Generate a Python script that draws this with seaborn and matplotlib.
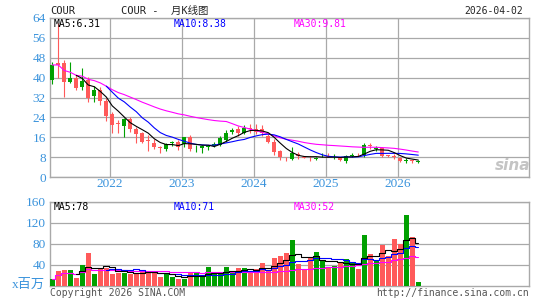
import numpy as np
import pandas as pd
import matplotlib
matplotlib.use('Agg')
import matplotlib.pyplot as plt
import seaborn as sns

# monthly K-line for COUR, Mar 2021 .. Apr 2026
months = pd.period_range('2021-03', '2026-04', freq='M')

opens = [39.0, 45.8, 45.8, 38.4, 39.7, 36.4, 39.0, 32.7, 35.0, 30.6,
         25.2, 21.8, 20.7, 23.2, 19.2, 17.6, 14.8, 13.8, 12.0, 11.2,
         13.6, 14.2, 13.2, 16.2, 11.9, 11.6, 12.0, 12.6, 12.9, 14.9,
         18.0, 19.2, 17.8, 19.8, 19.2, 19.2, 16.5, 14.2, 10.6, 7.8,
         7.2, 9.4, 8.1, 7.8, 7.4, 8.3, 8.4, 7.9, 7.8, 6.4,
         8.6, 9.3, 8.9, 12.7, 11.4, 11.6, 8.7, 8.3, 7.8, 6.5,
         6.6, 6.0]
highs = [46.4, 62.0, 47.1, 46.4, 40.9, 43.8, 40.1, 36.6, 36.4, 31.7,
         26.3, 22.9, 23.6, 24.0, 20.3, 18.2, 16.9, 15.2, 12.5, 13.8,
         14.6, 14.9, 16.2, 16.9, 12.9, 12.9, 12.9, 14.0, 16.5, 18.9,
         19.8, 20.5, 20.9, 21.2, 21.2, 20.9, 17.3, 15.3, 10.9, 7.9,
         12.2, 9.9, 8.5, 8.3, 8.1, 9.5, 9.8, 9.1, 8.0, 8.9,
         9.6, 9.6, 13.8, 13.8, 12.5, 12.0, 8.9, 9.2, 8.2, 7.5,
         6.9, 6.8]
lows = [37.4, 39.7, 32.3, 37.8, 35.0, 35.0, 30.1, 30.1, 29.0, 22.5,
        17.6, 17.6, 16.2, 18.2, 13.6, 13.6, 10.5, 11.3, 9.8, 10.5,
        12.5, 10.9, 12.0, 10.6, 10.1, 9.8, 10.9, 12.2, 12.5, 14.2,
        17.3, 16.5, 17.5, 17.6, 17.2, 16.5, 13.6, 8.9, 6.8, 6.6,
        6.8, 7.3, 7.5, 6.4, 6.7, 7.9, 8.0, 7.3, 6.6, 5.8,
        8.2, 8.4, 8.2, 11.1, 10.3, 8.2, 7.9, 7.3, 5.9, 5.5,
        5.6, 5.6]
closes = [45.1, 45.1, 38.4, 40.0, 36.0, 38.8, 31.9, 35.0, 30.6, 24.7,
          20.9, 21.3, 23.2, 19.2, 17.3, 14.2, 14.3, 12.0, 11.6, 13.2,
          14.2, 12.2, 16.0, 11.2, 12.1, 12.5, 12.3, 13.2, 15.8, 17.8,
          18.9, 17.6, 19.8, 19.4, 18.2, 17.6, 14.2, 10.2, 7.9, 7.5,
          9.5, 8.5, 7.8, 7.5, 7.6, 8.6, 8.2, 8.1, 6.8, 8.5,
          8.9, 9.1, 12.9, 12.4, 11.6, 8.5, 8.4, 8.1, 6.4, 6.7,
          6.4, 6.5]
# volume, millions of shares
volumes = [13.0, 27.8, 29.7, 29.7, 15.2, 39.2, 62.5, 22.1, 34.1, 32.8,
           22.1, 24.6, 24.6, 22.1, 24.6, 28.4, 26.5, 24.6, 17.1, 22.1,
           17.1, 12.6, 12.6, 25.3, 23.4, 17.1, 36.0, 22.1, 22.1, 36.0,
           25.0, 34.1, 34.1, 26.5, 31.0, 43.6, 29.7, 53.0, 56.2, 62.5,
           86.5, 41.0, 31.6, 55.0, 64.4, 48.6, 34.1, 37.3, 45.5, 50.5,
           42.3, 31.6, 96.0, 60.0, 48.6, 77.0, 56.2, 89.7, 80.2, 134.0,
           92.0, 6.3]

price_labels = ['MA5:6.31', 'MA10:8.38', 'MA30:9.81']
vol_labels = ['MA5:78', 'MA10:71', 'MA30:52']

RED = '#ff5a5a'
GREEN = '#00a000'
GRID = '#a9a9a9'
TICK = '#3a93dc'
MONO = ['DejaVu Sans Mono', 'Noto Sans CJK SC']

sns.set_style('white')
plt.rcParams['font.family'] = ['DejaVu Sans', 'Noto Sans CJK SC']

df = pd.DataFrame({'month': months, 'open': opens, 'high': highs,
                   'low': lows, 'close': closes, 'vol': volumes})
df['idx'] = np.arange(len(df))
df['dir'] = np.where(df['close'] >= df['open'], 'up', 'down')
df['color'] = np.where(df['dir'] == 'up', GREEN, RED)
df['ma5'] = df['close'].rolling(5).mean()
df['ma10'] = df['close'].rolling(10).mean()
df['ma30'] = df['close'].rolling(30, min_periods=1).mean()
df['vma5'] = df['vol'].rolling(5).mean()
df['vma10'] = df['vol'].rolling(10).mean()
df['vma30'] = df['vol'].rolling(30, min_periods=1).mean()

W, H = 545, 300
fig = plt.figure(figsize=(W / 100, H / 100), dpi=100)


def box(l, t, r, b):
    return [l / W, 1 - b / H, (r - l) / W, (b - t) / H]


def put(x, y, s, **kw):
    fig.text(x / W, 1 - y / H, s, **kw)


ax = fig.add_axes(box(50, 18, 529, 177))
axv = fig.add_axes(box(50, 201.7, 529, 285.7))
xlim = (-0.38, 79.45)
year_pos = [i - 0.38 for i, m in enumerate(months) if m.month == 1]
year_lab = [str(m.year) for m in months if m.month == 1]

# price panel: candles
ax.vlines(df['idx'], df['low'], df['high'], colors=df['color'], lw=0.8, zorder=3)
body_lo = np.minimum(df['open'], df['close'])
body_h = np.maximum(np.abs(df['close'] - df['open']), 0.3)
ax.bar(df['idx'], body_h, bottom=body_lo, width=0.72, color=df['color'],
       linewidth=0, zorder=3)
sns.lineplot(data=df, x='idx', y='ma30', ax=ax, color='#ff00ff', lw=0.8, zorder=4)
sns.lineplot(data=df, x='idx', y='ma10', ax=ax, color='#0000ff', lw=0.8, zorder=4)
sns.lineplot(data=df, x='idx', y='ma5', ax=ax, color='black', lw=0.8, zorder=4)

ax.set_xlim(*xlim)
ax.set_ylim(0, 64)
ax.set_yticks(range(0, 65, 8))
ax.set_xticks(year_pos)
ax.set_xticklabels(year_lab)
ax.grid(True, color=GRID, lw=0.9)
ax.set_axisbelow(True)
ax.set_xlabel('')
ax.set_ylabel('')
ax.tick_params(length=0, labelsize=9.5, labelcolor=TICK, pad=3)
ax.tick_params(axis='x', pad=0.5)
for t in ax.get_xticklabels() + ax.get_yticklabels():
    t.set_family('Liberation Serif')
for s in ax.spines.values():
    s.set_color(GRID)
    s.set_linewidth(1)

# volume panel
sns.barplot(data=df, x='idx', y='vol', hue='dir', palette={'up': GREEN, 'down': RED},
            native_scale=True, width=0.85, dodge=False, errorbar=None,
            saturation=1, linewidth=0, legend=False, ax=axv, zorder=3)
sns.lineplot(data=df, x='idx', y='vma30', ax=axv, color='#ff00ff', lw=0.8,
             drawstyle='steps-mid', zorder=4)
sns.lineplot(data=df, x='idx', y='vma10', ax=axv, color='#0000ff', lw=0.8,
             drawstyle='steps-mid', zorder=4)
sns.lineplot(data=df, x='idx', y='vma5', ax=axv, color='black', lw=0.8,
             drawstyle='steps-mid', zorder=4)
axv.set_xlim(*xlim)
axv.set_ylim(0, 160)
axv.set_yticks([40, 80, 120, 160])
axv.set_xticks([])
axv.yaxis.grid(True, color=GRID, lw=0.9)
axv.xaxis.grid(False)
axv.set_axisbelow(True)
axv.set_xlabel('')
axv.set_ylabel('')
axv.tick_params(length=0, labelsize=9.5, labelcolor=TICK, pad=3)
for t in axv.get_yticklabels():
    t.set_family('Liberation Serif')
for s in axv.spines.values():
    s.set_color(GRID)
    s.set_linewidth(1)

# header and captions
put(50, 11, 'COUR', family=MONO, fontsize=7.5, va='center')
put(121, 11, 'COUR -  月K线图', family=MONO, fontsize=7.5, va='center')
put(523, 11, '2026-04-02', family=MONO, fontsize=7, va='center', ha='right')
for x, s, c in zip([54, 174, 294], price_labels, ['black', '#0000ff', '#ff00ff']):
    put(x, 24, s, family=MONO, fontsize=7, va='center', color=c)
for x, s, c in zip([54, 174, 294], vol_labels, ['black', '#0000ff', '#ff00ff']):
    put(x, 206.5, s, family=MONO, fontsize=7, va='center', color=c)
put(45, 284.5, 'x百万', family=['Liberation Serif', 'Noto Sans CJK SC'],
    fontsize=9.5, color=TICK, va='center', ha='right')
put(50, 292.5, 'Copyright 2026 SINA.COM', family=MONO, fontsize=7,
    va='center', color='#555555')
put(529, 292.5, 'http://finance.sina.com.cn', family=MONO, fontsize=7,
    va='center', ha='right', color='#555555')
put(513, 166, 'sina', fontsize=11, fontweight='bold', style='italic',
    color='#c4c4c4', ha='center', va='center')

fig.savefig('out.png', dpi=100)
